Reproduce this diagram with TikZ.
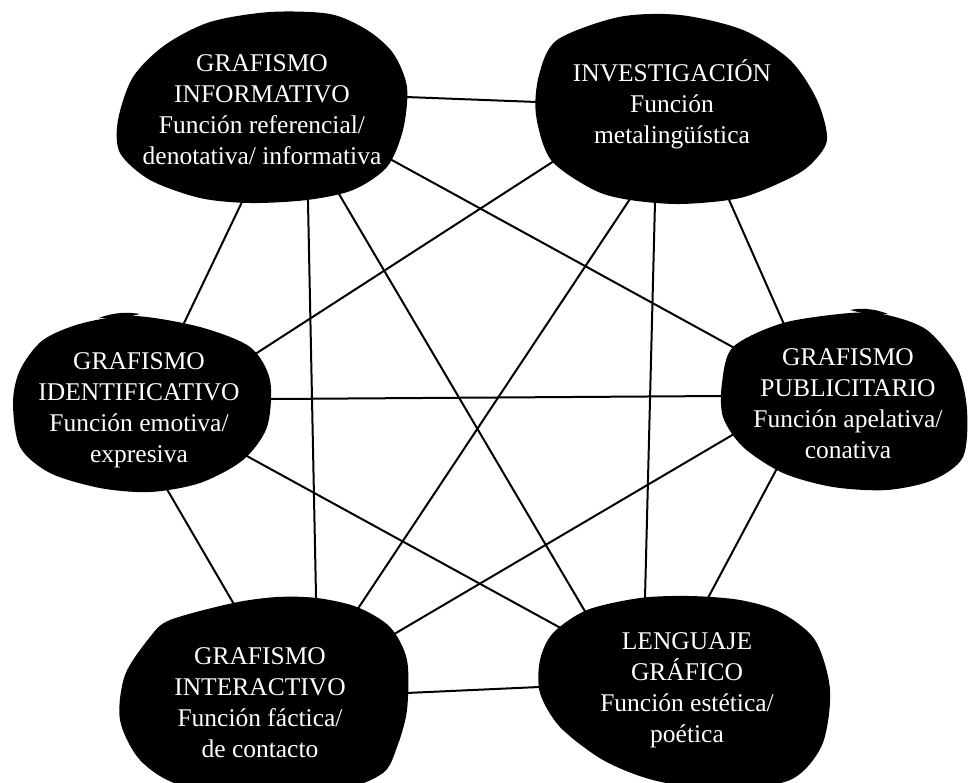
\documentclass[tikz,border=0pt]{standalone}
\usepackage{fontspec}
\setmainfont{Liberation Serif}
\pgfdeclarelayer{edges}
\pgfdeclarelayer{blobs}
\pgfsetlayers{edges,blobs,main}
\tikzset{
  funcion/.style={text=white, align=center, inner sep=0pt, font=\fontsize{25.5}{31}\selectfont},
  blob/.style={fill=black},
  link/.style={line width=2pt, shorten <=-8pt, shorten >=-8pt}
}
\begin{document}
\begin{tikzpicture}[x=1pt, y=-1pt, line cap=round, line join=round]
  \useasboundingbox (0,0) rectangle (971,782);
  \node[funcion] (inf) at (262,110) {GRAFISMO\\INFORMATIVO\\Función referencial/\\denotativa/ informativa};
  \node[funcion] (inv) at (672,104) {INVESTIGACIÓN\\Función\\metalingüística};
  \node[funcion] (ide) at (139,410) {GRAFISMO\\IDENTIFICATIVO\\Función emotiva/\\expresiva};
  \node[funcion] (pub) at (848,404) {GRAFISMO\\PUBLICITARIO\\Función apelativa/\\conativa};
  \node[funcion] (int) at (260,703) {GRAFISMO\\INTERACTIVO\\Función fáctica/\\de contacto};
  \node[funcion] (len) at (687,690) {LENGUAJE\\GRÁFICO\\Función estética/\\poética};
  % manchas
  \begin{pgfonlayer}{blobs}
    \fill[blob, shift={(inf)}] plot[smooth cycle] coordinates {(-129,-33) (-144,10) (-142,43) (-112,70) (-62,88) (-12,93) (45,90) (91,80) (125,57) (141,20) (145,-23) (131,-57) (105,-80) (68,-96) (8,-98) (-52,-88) (-97,-65)};
    \fill[blob, shift={(inv)}] plot[smooth cycle] coordinates {(-133,-29) (-115,-64) (-53,-87) (8,-89) (71,-74) (118,-44) (145,-4) (155,36) (138,61) (114,76) (68,94) (9,100) (-42,96) (-78,86) (-121,56) (-136,11)};
    \fill[blob, shift={(ide)}] plot[smooth cycle] coordinates {(-126,-7) (-119,-40) (-96,-70) (-56,-87) (-4,-94) (61,-83) (111,-63) (131,-30) (128,17) (104,50) (61,73) (11,82) (-39,78) (-89,63) (-119,37)};
    \fill[blob, shift={(ide)}] (-40,-92) .. controls (-25,-98) and (-10,-98) .. (1,-96) .. controls (-10,-93) .. (-20,-91) -- cycle;
    \fill[blob, shift={(pub)}] plot[smooth cycle] coordinates {(-65,-81) (-115,-57) (-126,-21) (-125,13) (-105,43) (-65,69) (-15,83) (39,86) (85,76) (115,53) (119,6) (109,-37) (79,-74) (39,-89) (2,-91)};
    \fill[blob, shift={(pub)}] (40,-90) .. controls (25,-96) and (12,-96) .. (2,-94) .. controls (12,-91) .. (22,-89) -- cycle;
    \fill[blob, shift={(int)}] plot[smooth cycle] coordinates {(-110,-66) (-90,-83) (-27,-100) (17,-106) (57,-105) (97,-96) (130,-76) (147,-43) (147,7) (137,44) (123,70) (80,87) (0,92) (-80,82) (-120,57) (-140,17) (-135,-28)};
    \fill[blob, shift={(len)}] plot[smooth cycle] coordinates {(-100,-80) (-134,-57) (-147,-30) (-147,3) (-127,37) (-84,70) (-34,90) (33,100) (103,90) (135,55) (143,0) (128,-50) (93,-78) (53,-90) (3,-94) (-47,-92)};
  \end{pgfonlayer}
  % enlaces
  \begin{pgfonlayer}{edges}
    \foreach \a/\ax/\ay/\b/\bx/\by in {inf/144/-13/inv/-135/-2, inf/-21/94/ide/47/-91, inf/46/92/int/56/-107,
        inf/77/84/len/-104/-82, inf/128/49/pub/-119/-59, inv/-118/57/ide/124/-61, inv/-44/98/int/99/-96,
        inv/-17/98/len/-42/-92, inv/58/98/pub/-65/-82, ide/133/-11/pub/-127/-8, ide/106/45/len/-130/-64,
        ide/29/81/int/-25/-97, pub/-114/30/int/136/-70, pub/-74/70/len/22/-94, int/146/-10/len/-148/-3}
      \draw[link] ([shift={(\ax,\ay)}]\a.center) -- ([shift={(\bx,\by)}]\b.center);
  \end{pgfonlayer}
\end{tikzpicture}
\end{document}
